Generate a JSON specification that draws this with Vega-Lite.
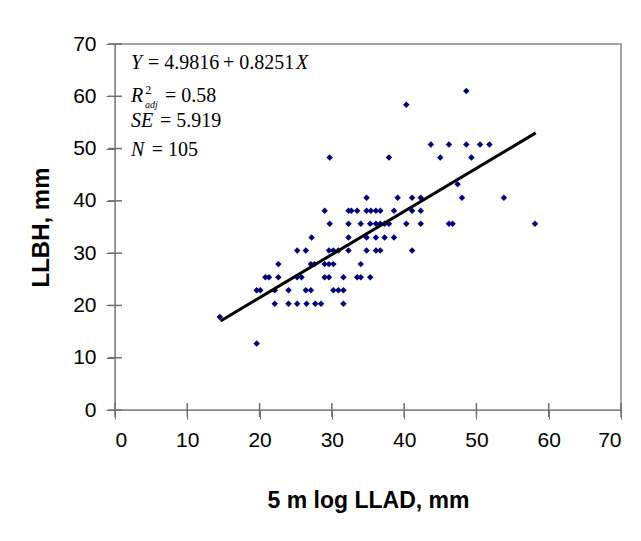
{
  "$schema": "https://vega.github.io/schema/vega-lite/v6.json",
  "width": 506,
  "height": 366,
  "autosize": {"type": "none"},
  "padding": {"left": 115, "top": 44, "right": 20, "bottom": 131},
  "background": "white",
  "config": {
    "font": "Liberation Sans",
    "axis": {"grid": false, "domainColor": "#707070", "tickColor": "#707070", "labelColor": "black", "titleColor": "black"}
  },
  "datasets": {
    "trees": [
      {"llad": 19.6, "llbh": 12.7},
      {"llad": 14.5, "llbh": 17.8},
      {"llad": 22.1, "llbh": 20.3}, {"llad": 24.0, "llbh": 20.3}, {"llad": 25.2, "llbh": 20.3}, {"llad": 26.5, "llbh": 20.3}, {"llad": 27.7, "llbh": 20.3}, {"llad": 28.5, "llbh": 20.3}, {"llad": 31.6, "llbh": 20.3},
      {"llad": 19.6, "llbh": 22.9}, {"llad": 20.1, "llbh": 22.9}, {"llad": 22.1, "llbh": 22.9}, {"llad": 24.0, "llbh": 22.9}, {"llad": 26.4, "llbh": 22.9}, {"llad": 27.1, "llbh": 22.9}, {"llad": 30.2, "llbh": 22.9}, {"llad": 30.9, "llbh": 22.9}, {"llad": 31.6, "llbh": 22.9},
      {"llad": 20.8, "llbh": 25.4}, {"llad": 21.3, "llbh": 25.4}, {"llad": 22.6, "llbh": 25.4}, {"llad": 25.2, "llbh": 25.4}, {"llad": 25.8, "llbh": 25.4}, {"llad": 29.0, "llbh": 25.4}, {"llad": 29.6, "llbh": 25.4}, {"llad": 31.6, "llbh": 25.4}, {"llad": 33.5, "llbh": 25.4}, {"llad": 34.0, "llbh": 25.4}, {"llad": 35.3, "llbh": 25.4},
      {"llad": 22.6, "llbh": 27.9}, {"llad": 27.1, "llbh": 27.9}, {"llad": 27.6, "llbh": 27.9}, {"llad": 29.0, "llbh": 27.9}, {"llad": 29.6, "llbh": 27.9}, {"llad": 30.2, "llbh": 27.9}, {"llad": 34.0, "llbh": 27.9},
      {"llad": 25.2, "llbh": 30.5}, {"llad": 26.4, "llbh": 30.5}, {"llad": 29.6, "llbh": 30.5}, {"llad": 30.2, "llbh": 30.5}, {"llad": 30.9, "llbh": 30.5}, {"llad": 32.3, "llbh": 30.5}, {"llad": 34.8, "llbh": 30.5}, {"llad": 36.1, "llbh": 30.5}, {"llad": 36.7, "llbh": 30.5}, {"llad": 41.1, "llbh": 30.5},
      {"llad": 27.2, "llbh": 33.0}, {"llad": 32.3, "llbh": 33.0}, {"llad": 34.8, "llbh": 33.0}, {"llad": 36.1, "llbh": 33.0}, {"llad": 37.3, "llbh": 33.0}, {"llad": 38.6, "llbh": 33.0},
      {"llad": 29.7, "llbh": 35.6}, {"llad": 32.3, "llbh": 35.6}, {"llad": 34.0, "llbh": 35.6}, {"llad": 35.3, "llbh": 35.6}, {"llad": 36.1, "llbh": 35.6}, {"llad": 36.7, "llbh": 35.6}, {"llad": 37.3, "llbh": 35.6}, {"llad": 37.9, "llbh": 35.6}, {"llad": 40.3, "llbh": 35.6}, {"llad": 42.3, "llbh": 35.6}, {"llad": 46.2, "llbh": 35.6}, {"llad": 46.7, "llbh": 35.6}, {"llad": 58.1, "llbh": 35.6},
      {"llad": 29.0, "llbh": 38.1}, {"llad": 32.3, "llbh": 38.1}, {"llad": 32.7, "llbh": 38.1}, {"llad": 33.5, "llbh": 38.1}, {"llad": 34.8, "llbh": 38.1}, {"llad": 35.4, "llbh": 38.1}, {"llad": 36.1, "llbh": 38.1}, {"llad": 36.7, "llbh": 38.1}, {"llad": 38.6, "llbh": 38.1}, {"llad": 41.1, "llbh": 38.1}, {"llad": 42.3, "llbh": 38.1},
      {"llad": 34.8, "llbh": 40.6}, {"llad": 39.1, "llbh": 40.6}, {"llad": 41.1, "llbh": 40.6}, {"llad": 42.3, "llbh": 40.6}, {"llad": 48.0, "llbh": 40.6}, {"llad": 53.8, "llbh": 40.6},
      {"llad": 47.4, "llbh": 43.2},
      {"llad": 29.7, "llbh": 48.3}, {"llad": 37.9, "llbh": 48.3}, {"llad": 45.0, "llbh": 48.3}, {"llad": 49.3, "llbh": 48.3},
      {"llad": 43.7, "llbh": 50.8}, {"llad": 46.2, "llbh": 50.8}, {"llad": 48.6, "llbh": 50.8}, {"llad": 50.5, "llbh": 50.8}, {"llad": 51.8, "llbh": 50.8},
      {"llad": 40.3, "llbh": 58.4},
      {"llad": 48.6, "llbh": 61.0}
    ],
    "fit": [
      {"llad": 14.6, "llbh": 17.03},
      {"llad": 58.2, "llbh": 53.0}
    ],
    "frame": [{"x0": 0, "x1": 70, "y0": 0, "y1": 70}],
    "tickvals": [{"v": 0, "z": 0}, {"v": 10, "z": 0}, {"v": 20, "z": 0}, {"v": 30, "z": 0}, {"v": 40, "z": 0}, {"v": 50, "z": 0}, {"v": 60, "z": 0}, {"v": 70, "z": 0}],
    "eqPlain": [
      {"t": "= 4.9816", "x": 4.56, "y": 65.26},
      {"t": "+ 0.8251", "x": 14.94, "y": 65.26},
      {"t": "= 0.58", "x": 6.92, "y": 58.86},
      {"t": "= 5.919", "x": 6.22, "y": 54.15},
      {"t": "= 105", "x": 5.08, "y": 48.65}
    ],
    "eqVars": [
      {"t": "Y", "x": 2.21, "y": 65.26},
      {"t": "X", "x": 25.04, "y": 65.26},
      {"t": "R", "x": 2.21, "y": 58.86},
      {"t": "SE", "x": 2.21, "y": 54.15},
      {"t": "N", "x": 2.21, "y": 48.65}
    ],
    "eqSup": [{"t": "2", "x": 4.2, "y": 58.86}],
    "eqSub": [{"t": "adj", "x": 4.15, "y": 58.86}]
  },
  "layer": [
    {
      "data": {"name": "trees"},
      "mark": {"type": "point", "shape": "diamond", "filled": true, "color": "#000080", "size": 42, "opacity": 1},
      "encoding": {
        "x": {"field": "llad", "type": "quantitative", "scale": {"domain": [0, 70], "nice": false, "zero": false},
          "axis": {"orient": "bottom", "values": [0, 10, 20, 30, 40, 50, 60, 70], "tickSize": 9, "labelFontSize": 21, "labelPadding": 10, "title": "5 m log LLAD, mm", "titleFontSize": 23, "titleFontWeight": "bold", "titlePadding": 39}},
        "y": {"field": "llbh", "type": "quantitative", "scale": {"domain": [0, 70], "nice": false, "zero": false},
          "axis": {"orient": "left", "values": [0, 10, 20, 30, 40, 50, 60, 70], "tickSize": 9, "labelFontSize": 21, "labelPadding": 10, "title": "LLBH, mm", "titleFontSize": 24, "titleFontWeight": "bold", "titlePadding": 19}}
      }
    },
    {
      "data": {"name": "fit"},
      "mark": {"type": "line", "color": "black", "strokeWidth": 3},
      "encoding": {
        "x": {"field": "llad", "type": "quantitative"},
        "y": {"field": "llbh", "type": "quantitative"}
      }
    },
    {
      "data": {"name": "frame"},
      "mark": {"type": "rect", "fillOpacity": 0, "stroke": "#8c8c8c", "strokeWidth": 1.5},
      "encoding": {
        "x": {"field": "x0", "type": "quantitative"},
        "x2": {"field": "x1"},
        "y": {"field": "y0", "type": "quantitative"},
        "y2": {"field": "y1"}
      }
    },
    {
      "data": {"name": "tickvals"},
      "mark": {"type": "tick", "orient": "vertical", "size": 14, "thickness": 1.5, "color": "#707070", "opacity": 1},
      "encoding": {
        "x": {"field": "v", "type": "quantitative"},
        "y": {"field": "z", "type": "quantitative"}
      }
    },
    {
      "data": {"name": "tickvals"},
      "mark": {"type": "tick", "orient": "horizontal", "size": 14, "thickness": 1.5, "color": "#707070", "opacity": 1},
      "encoding": {
        "y": {"field": "v", "type": "quantitative"},
        "x": {"field": "z", "type": "quantitative"}
      }
    },
    {
      "data": {"name": "eqPlain"},
      "mark": {"type": "text", "font": "Liberation Serif", "fontSize": 20, "align": "left", "baseline": "alphabetic", "color": "black"},
      "encoding": {
        "x": {"field": "x", "type": "quantitative"},
        "y": {"field": "y", "type": "quantitative"},
        "text": {"field": "t"}
      }
    },
    {
      "data": {"name": "eqVars"},
      "mark": {"type": "text", "font": "Liberation Serif", "fontSize": 20, "fontStyle": "italic", "align": "left", "baseline": "alphabetic", "color": "black"},
      "encoding": {
        "x": {"field": "x", "type": "quantitative"},
        "y": {"field": "y", "type": "quantitative"},
        "text": {"field": "t"}
      }
    },
    {
      "data": {"name": "eqSup"},
      "mark": {"type": "text", "font": "Liberation Serif", "fontSize": 12, "align": "left", "baseline": "alphabetic", "dy": -8, "color": "black"},
      "encoding": {
        "x": {"field": "x", "type": "quantitative"},
        "y": {"field": "y", "type": "quantitative"},
        "text": {"field": "t"}
      }
    },
    {
      "data": {"name": "eqSub"},
      "mark": {"type": "text", "font": "Liberation Serif", "fontSize": 10, "fontStyle": "italic", "align": "left", "baseline": "alphabetic", "dy": 6, "color": "black"},
      "encoding": {
        "x": {"field": "x", "type": "quantitative"},
        "y": {"field": "y", "type": "quantitative"},
        "text": {"field": "t"}
      }
    }
  ]
}
